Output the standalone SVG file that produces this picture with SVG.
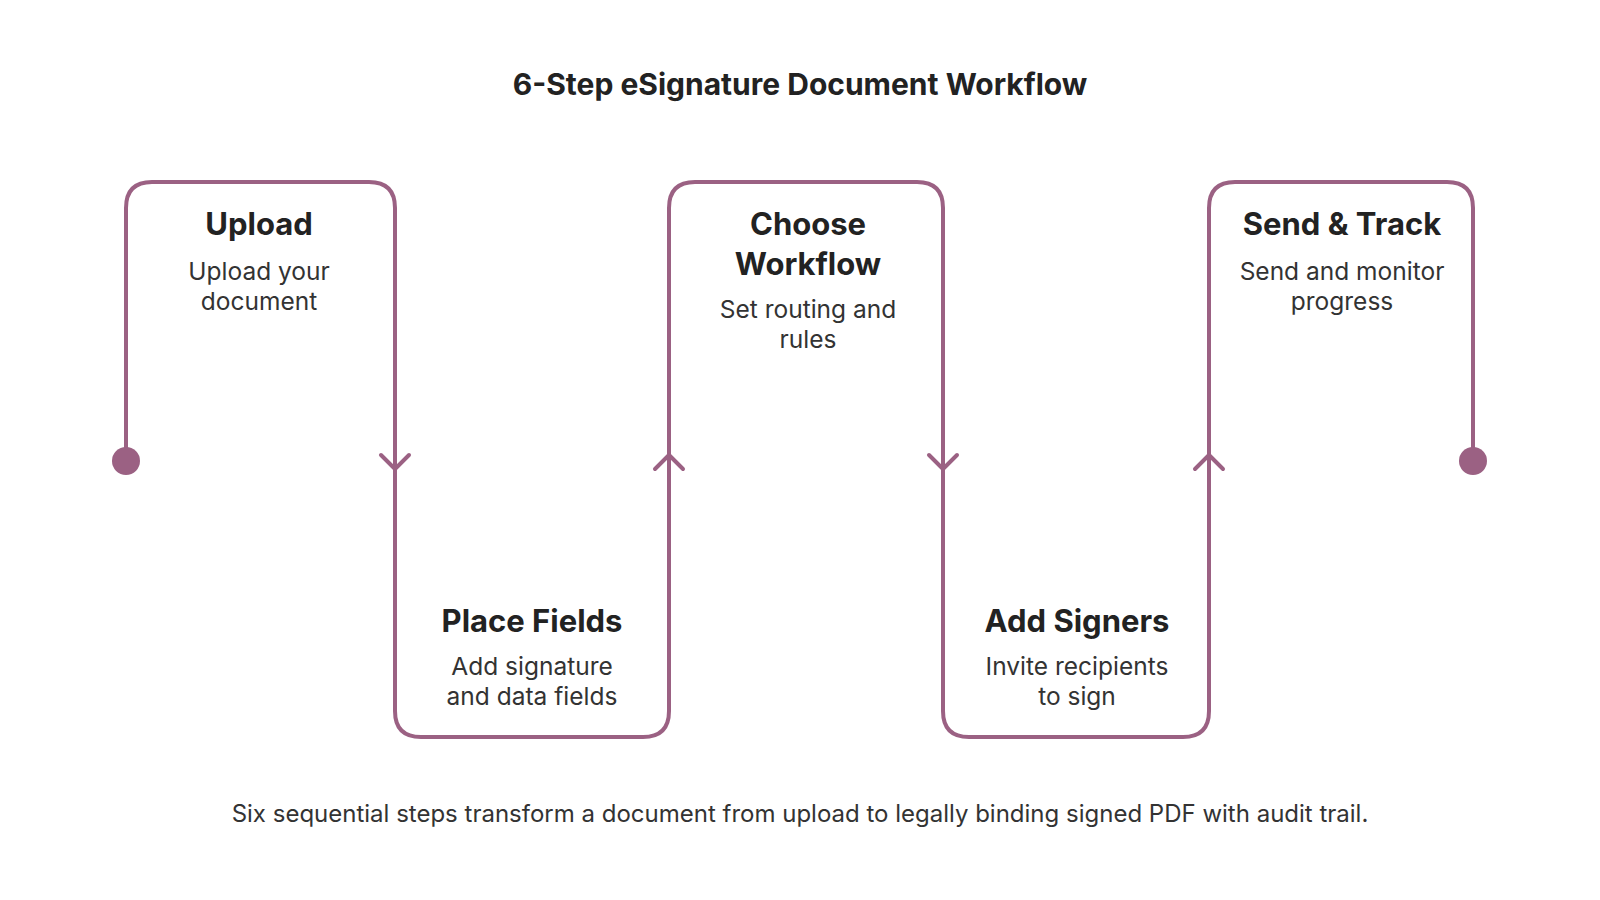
<svg xmlns="http://www.w3.org/2000/svg" width="1600" height="900" viewBox="0 0 1600 900">
<style>
.ln{fill:none;stroke:#9b6183;stroke-width:4;stroke-linejoin:round;stroke-linecap:round}
.t{font-family:Inter,"Liberation Sans",sans-serif;font-weight:700;font-size:31px;fill:#222;text-anchor:middle}
.d{font-family:Inter,"Liberation Sans",sans-serif;font-size:24.5px;fill:#333;text-anchor:middle}
</style>
<rect width="1600" height="900" fill="#fff"/>
<text x="800" y="95" class="t" style="font-size:30px">6-Step eSignature Document Workflow</text>
<g id="connectors">
<path class="ln" d="M126,461 V208 Q126,182 152,182 H369 Q395,182 395,208 V711 Q395,737 421,737 H643 Q669,737 669,711 V208 Q669,182 695,182 H917 Q943,182 943,208 V711 Q943,737 969,737 H1183 Q1209,737 1209,711 V208 Q1209,182 1235,182 H1447 Q1473,182 1473,208 V461"/>
<circle cx="126" cy="461" r="14" fill="#9b6183"/>
<circle cx="1473" cy="461" r="14" fill="#9b6183"/>
<path class="ln" d="M381,455 L395,469 L409,455"/>
<path class="ln" d="M655,469 L669,455 L683,469"/>
<path class="ln" d="M929,455 L943,469 L957,455"/>
<path class="ln" d="M1195,469 L1209,455 L1223,469"/>
</g>
<g id="upload"><text x="259" y="235" class="t">Upload</text><text x="259" y="280" class="d">Upload your</text><text x="259" y="310" class="d">document</text></g>
<g id="place-fields"><text x="532" y="632" class="t">Place Fields</text><text x="532" y="675" class="d">Add signature</text><text x="532" y="705" class="d">and data fields</text></g>
<g id="choose-workflow"><text x="808" y="235" class="t">Choose</text><text x="808" y="275" class="t">Workflow</text><text x="808" y="318" class="d">Set routing and</text><text x="808" y="348" class="d">rules</text></g>
<g id="add-signers"><text x="1077" y="632" class="t">Add Signers</text><text x="1077" y="675" class="d">Invite recipients</text><text x="1077" y="705" class="d">to sign</text></g>
<g id="send-track"><text x="1342" y="235" class="t">Send &amp; Track</text><text x="1342" y="280" class="d">Send and monitor</text><text x="1342" y="310" class="d">progress</text></g>
<text x="800" y="822" class="d" style="font-size:24px">Six sequential steps transform a document from upload to legally binding signed PDF with audit trail.</text>
</svg>
